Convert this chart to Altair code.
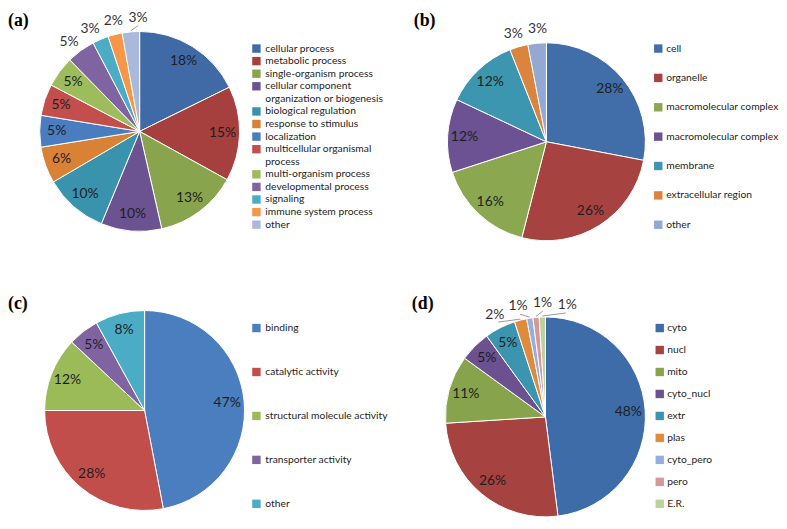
import math
import altair as alt
import pandas as pd

# ---------------- data ----------------
panel_titles = ["(a)", "(b)", "(c)", "(d)"]

a_labels = ["cellular process", "metabolic process", "single-organism process",
            "cellular component\norganization or biogenesis", "biological regulation",
            "response to stimulus", "localization", "multicellular organismal\nprocess",
            "multi-organism process", "developmental process", "signaling",
            "immune system process", "other"]
a_values = [17.7, 15.3, 13.4, 9.8, 10.3, 5.9, 5.1, 5.1, 5.0, 4.6, 2.6, 2.3, 2.8]
a_colors = ["#3F6AA6", "#A5403E", "#88A44D", "#6B5290", "#3A93AD", "#D98236", "#4A7DBF",
            "#C24F4C", "#9DBD5C", "#8064A2", "#4BACC6", "#F79646", "#A9B9DC"]

b_labels = ["cell", "organelle", "macromolecular complex", "macromolecular complex",
            "membrane", "extracellular region", "other"]
b_values = [28, 26, 16, 12, 12, 3, 3]
b_colors = ["#416EA8", "#A64341", "#8BA74F", "#6C5292", "#3C96AF", "#DB843D", "#93A9D4"]

c_labels = ["binding", "catalytic activity", "structural molecule activity",
            "transporter activity", "other"]
c_values = [47, 28, 12, 5, 8]
c_colors = ["#4A7EBF", "#C24E4C", "#9BBB59", "#8064A2", "#4BACC6"]

d_labels = ["cyto", "nucl", "mito", "cyto_nucl", "extr", "plas", "cyto_pero", "pero", "E.R."]
d_values = [48, 26, 11, 5, 5, 2, 1, 1, 1]
d_colors = ["#3E6CA8", "#A64240", "#87A44C", "#6B5190", "#3B95AE", "#E08A3B",
            "#94AEDD", "#D89797", "#BBD39A"]

FONT = "Lato"
TXT = "#1E1E1E"


def spread(mids, outside, min_sep):
    idx = [i for i in range(len(mids)) if outside[i]]
    ang = {i: (mids[i] - 360 if mids[i] > 180 else mids[i]) for i in idx}
    clusters = [[i] for i in sorted(idx, key=lambda i: ang[i])]

    def layout(cl):
        c = sum(ang[i] for i in cl) / len(cl)
        n = len(cl)
        return [c + (k - (n - 1) / 2) * min_sep for k in range(n)]

    changed = True
    while changed:
        changed = False
        for j in range(len(clusters) - 1):
            if layout(clusters[j + 1])[0] - layout(clusters[j])[-1] < min_sep:
                clusters[j] = clusters[j] + clusters[j + 1]
                del clusters[j + 1]
                changed = True
                break
    res = {}
    for cl in clusters:
        for i, p in zip(cl, layout(cl)):
            res[i] = p % 360
    return res


def panel(title, labels, values, colors, width, height, cx, cy, R,
          leg_sq_x, leg_tx_x, leg_y0, leg_step, title_y, title_x, title_base):
    n = len(values)
    total = sum(values)
    keys = [f"k{i}" for i in range(n)]
    cum = 0.0
    mids = []
    for v in values:
        mids.append((cum + v / 2) / total * 360)
        cum += v
    outside = [v / total < 0.0495 for v in values]
    lab = spread(mids, outside, 12.5)
    lab_ang = [lab.get(i, mids[i]) for i in range(n)]
    lead = [outside[i] and abs(((lab_ang[i] - mids[i] + 180) % 360) - 180) > 3.5 for i in range(n)]
    df = pd.DataFrame({
        "key": keys, "value": values, "idx": list(range(n)),
        "pct": [f"{round(v / total * 100)}%" for v in values],
        "mid": mids, "lab_ang": lab_ang, "outside": outside, "lead": lead,
    })
    color = alt.Color("key:N", scale=alt.Scale(domain=keys, range=colors), legend=None)

    arc = alt.Chart(df).mark_arc(outerRadius=R, stroke="white", strokeWidth=1).encode(
        theta=alt.Theta("value:Q", stack=True),
        color=color,
        order=alt.Order("idx:Q"),
        x=alt.value(cx), y=alt.value(cy),
    )
    tscale = alt.Scale(domain=[0, 360], range=[0, 2 * math.pi])
    inner = alt.Chart(df).transform_filter("!datum.outside").mark_text(
        radius=R * 0.83, font=FONT, fontSize=14, color=TXT).encode(
        theta=alt.Theta("lab_ang:Q", stack=False, scale=tscale),
        text="pct:N", x=alt.value(cx), y=alt.value(cy))
    outer = alt.Chart(df).transform_filter("datum.outside").mark_text(
        radius=R + 14, font=FONT, fontSize=14, color="#333333").encode(
        theta=alt.Theta("lab_ang:Q", stack=False, scale=tscale),
        text="pct:N", x=alt.value(cx), y=alt.value(cy))
    leaders = alt.Chart(df).transform_filter("datum.lead").transform_calculate(
        lx1=f"{cx} + {R + 1}*sin(datum.mid*PI/180)",
        ly1=f"{cy} - {R + 1}*cos(datum.mid*PI/180)",
        lx2=f"{cx} + {R + 6}*sin(datum.lab_ang*PI/180)",
        ly2=f"{cy} - {R + 6}*cos(datum.lab_ang*PI/180)",
    ).mark_rule(color="#999999", strokeWidth=1).encode(
        x=alt.X("lx1:Q", scale=None), y=alt.Y("ly1:Q", scale=None),
        x2="lx2:Q", y2="ly2:Q")

    # legend rows
    rows, lines, firsts, lkeys = [], [], [], []
    r = 0
    for k, lbl in zip(keys, labels):
        for j, part in enumerate(lbl.split("\n")):
            rows.append(r)
            lines.append(part)
            firsts.append(j == 0)
            lkeys.append(k)
            r += 1
    ldf = pd.DataFrame({"row": rows, "line": lines, "first": firsts, "key": lkeys})
    yscale = alt.Scale(domain=[0, r - 1], range=[leg_y0, leg_y0 + (r - 1) * leg_step])
    leg_sq = alt.Chart(ldf).transform_filter("datum.first").mark_square(size=72, opacity=1).encode(
        x=alt.value(leg_sq_x), y=alt.Y("row:Q", scale=yscale, axis=None), color=color)
    leg_tx = alt.Chart(ldf).mark_text(align="left", baseline="middle", font=FONT,
                                      fontSize=10.4, color=TXT).encode(
        x=alt.value(leg_tx_x), y=alt.Y("row:Q", scale=yscale, axis=None), text="line:N")

    ttl = alt.Chart(pd.DataFrame({"t": [title]})).mark_text(
        align="left", baseline=title_base, font="Liberation Serif", fontWeight="bold",
        fontSize=18, color="#000000").encode(
        x=alt.value(title_x), y=alt.value(title_y), text="t:N")

    return alt.layer(arc, inner, outer, leaders, leg_sq, leg_tx, ttl).resolve_scale(
        theta="independent", y="independent", x="independent"
    ).properties(width=width, height=height)


pa = panel(panel_titles[0], a_labels, a_values, a_colors, 398, 262, 133, 120, 101,
           251, 260, 36.3, 12.71, 0, 0, "top")
pb = panel(panel_titles[1], b_labels, b_values, b_colors, 381, 262, 146, 130.5, 100,
           259, 267, 36.3, 29.67, 0, 12, "top")
pc = panel(panel_titles[2], c_labels, c_values, c_colors, 398, 251, 138, 140, 101,
           251, 260, 56.7, 44.4, 32, 0, "middle")
pd_ = panel(panel_titles[3], d_labels, d_values, d_colors, 381, 251, 145, 146.5, 101,
            260.5, 268, 56.7, 22.2, 32, 10, "middle")

chart = alt.concat(pa, pb, pc, pd_, columns=2, spacing=0, bounds="flush").resolve_scale(
    color="independent").properties(padding=0).configure_view(stroke=None)

chart.save("out.html", embed_options={"renderer": "svg", "actions": False})
